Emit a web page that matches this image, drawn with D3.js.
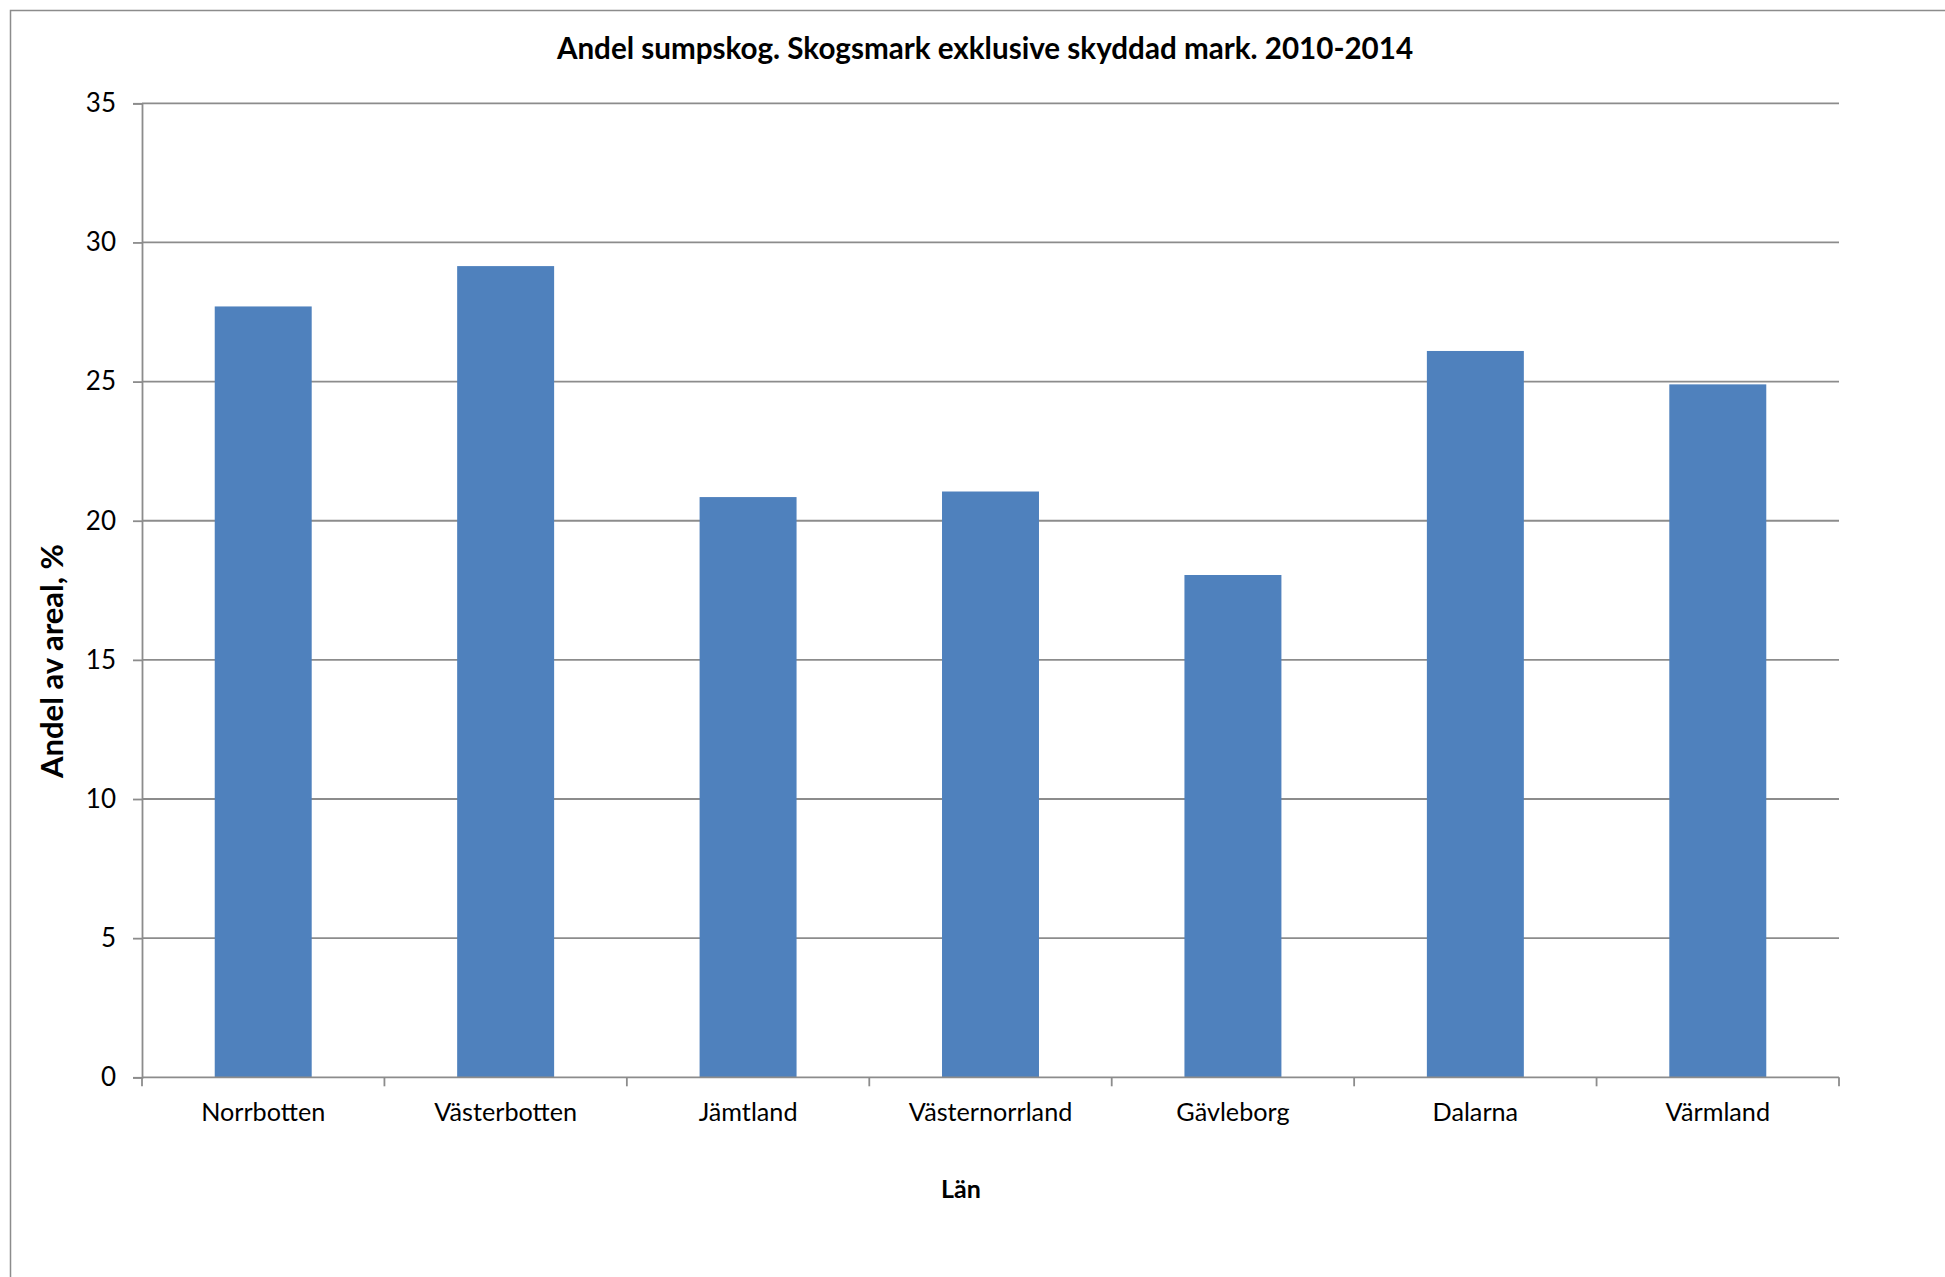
<!DOCTYPE html>
<html>
<head>
<meta charset="utf-8">
<script src="https://cdn.jsdelivr.net/npm/d3@7"></script>
<style>
  html, body { margin: 0; padding: 0; background: #fff; }
  svg { display: block; }
  text { font-family: Lato, "Open Sans", sans-serif; fill: #000; }
</style>
</head>
<body>
<svg id="chart" width="1945" height="1277"></svg>
<script>
const categories = ["Norrbotten", "Västerbotten", "Jämtland", "Västernorrland", "Gävleborg", "Dalarna", "Värmland"];
const values = [27.7, 29.15, 20.85, 21.05, 18.05, 26.1, 24.9];
const yTicks = [0, 5, 10, 15, 20, 25, 30, 35];
const titleText = "Andel sumpskog. Skogsmark exklusive skyddad mark. 2010-2014";
const xTitle = "Län";
const yTitle = "Andel av areal, %";

const W = 1945, H = 1277;
const plot = { left: 142, right: 1839, top: 103.3, bottom: 1077.3 };
const svg = d3.select("#chart");

// outer border
svg.append("rect")
  .attr("x", 10.5).attr("y", 10.5)
  .attr("width", W + 20).attr("height", H + 20)
  .attr("fill", "none").attr("stroke", "#8c8c8c").attr("stroke-width", 1.5);

const x = d3.scaleBand().domain(categories)
  .range([plot.left, plot.right]).paddingInner(0.6).paddingOuter(0.3);
const y = d3.scaleLinear().domain([0, 35]).range([plot.bottom, plot.top]);

// gridlines
svg.append("g").selectAll("line").data(yTicks.filter(d => d > 0)).join("line")
  .attr("x1", plot.left).attr("x2", plot.right)
  .attr("y1", d => y(d)).attr("y2", d => y(d))
  .attr("stroke", "#8c8c8c").attr("stroke-width", 1.8);

// bars
svg.append("g").selectAll("rect").data(categories).join("rect")
  .attr("x", d => x(d))
  .attr("width", x.bandwidth())
  .attr("y", (d, i) => y(values[i]))
  .attr("height", (d, i) => y(0) - y(values[i]))
  .attr("fill", "#4f81bd");

// y axis
const yAxis = svg.append("g").attr("transform", `translate(${plot.left},0)`)
  .call(d3.axisLeft(y).tickValues(yTicks).tickSize(9).tickPadding(17).tickFormat(d3.format("d")));
yAxis.selectAll("path, line").attr("stroke", "#8c8c8c").attr("stroke-width", 1.8);
yAxis.selectAll("text").attr("font-size", 26).attr("font-family", "Lato");

// x axis (labels at band centres)
const xAxis = svg.append("g").attr("transform", `translate(0,${plot.bottom})`)
  .call(d3.axisBottom(x).tickSize(0).tickPadding(26));
xAxis.select("path").attr("stroke", "#8c8c8c").attr("stroke-width", 1.8)
  .attr("d", `M${plot.left},0H${plot.right}`);
xAxis.selectAll("text").attr("font-size", 25.2).attr("font-family", "Lato");

// boundary ticks
const step = x.step();
const bounds = categories.map(c => x(c) - x.paddingOuter() * step).concat([plot.right]);
xAxis.append("g").selectAll("line").data(bounds).join("line")
  .attr("x1", d => d).attr("x2", d => d).attr("y1", 0).attr("y2", 9)
  .attr("stroke", "#8c8c8c").attr("stroke-width", 1.8);

// titles
svg.append("text").attr("x", 985).attr("y", 59).attr("text-anchor", "middle")
  .attr("font-size", 29.6).attr("font-weight", "bold").text(titleText);
svg.append("text").attr("x", 961).attr("y", 1198).attr("text-anchor", "middle")
  .attr("font-size", 25).attr("font-weight", "bold").text(xTitle);
svg.append("text").attr("transform", "translate(63,661) rotate(-90)").attr("text-anchor", "middle")
  .attr("font-size", 31).attr("font-weight", "bold").text(yTitle);
</script>
</body>
</html>
